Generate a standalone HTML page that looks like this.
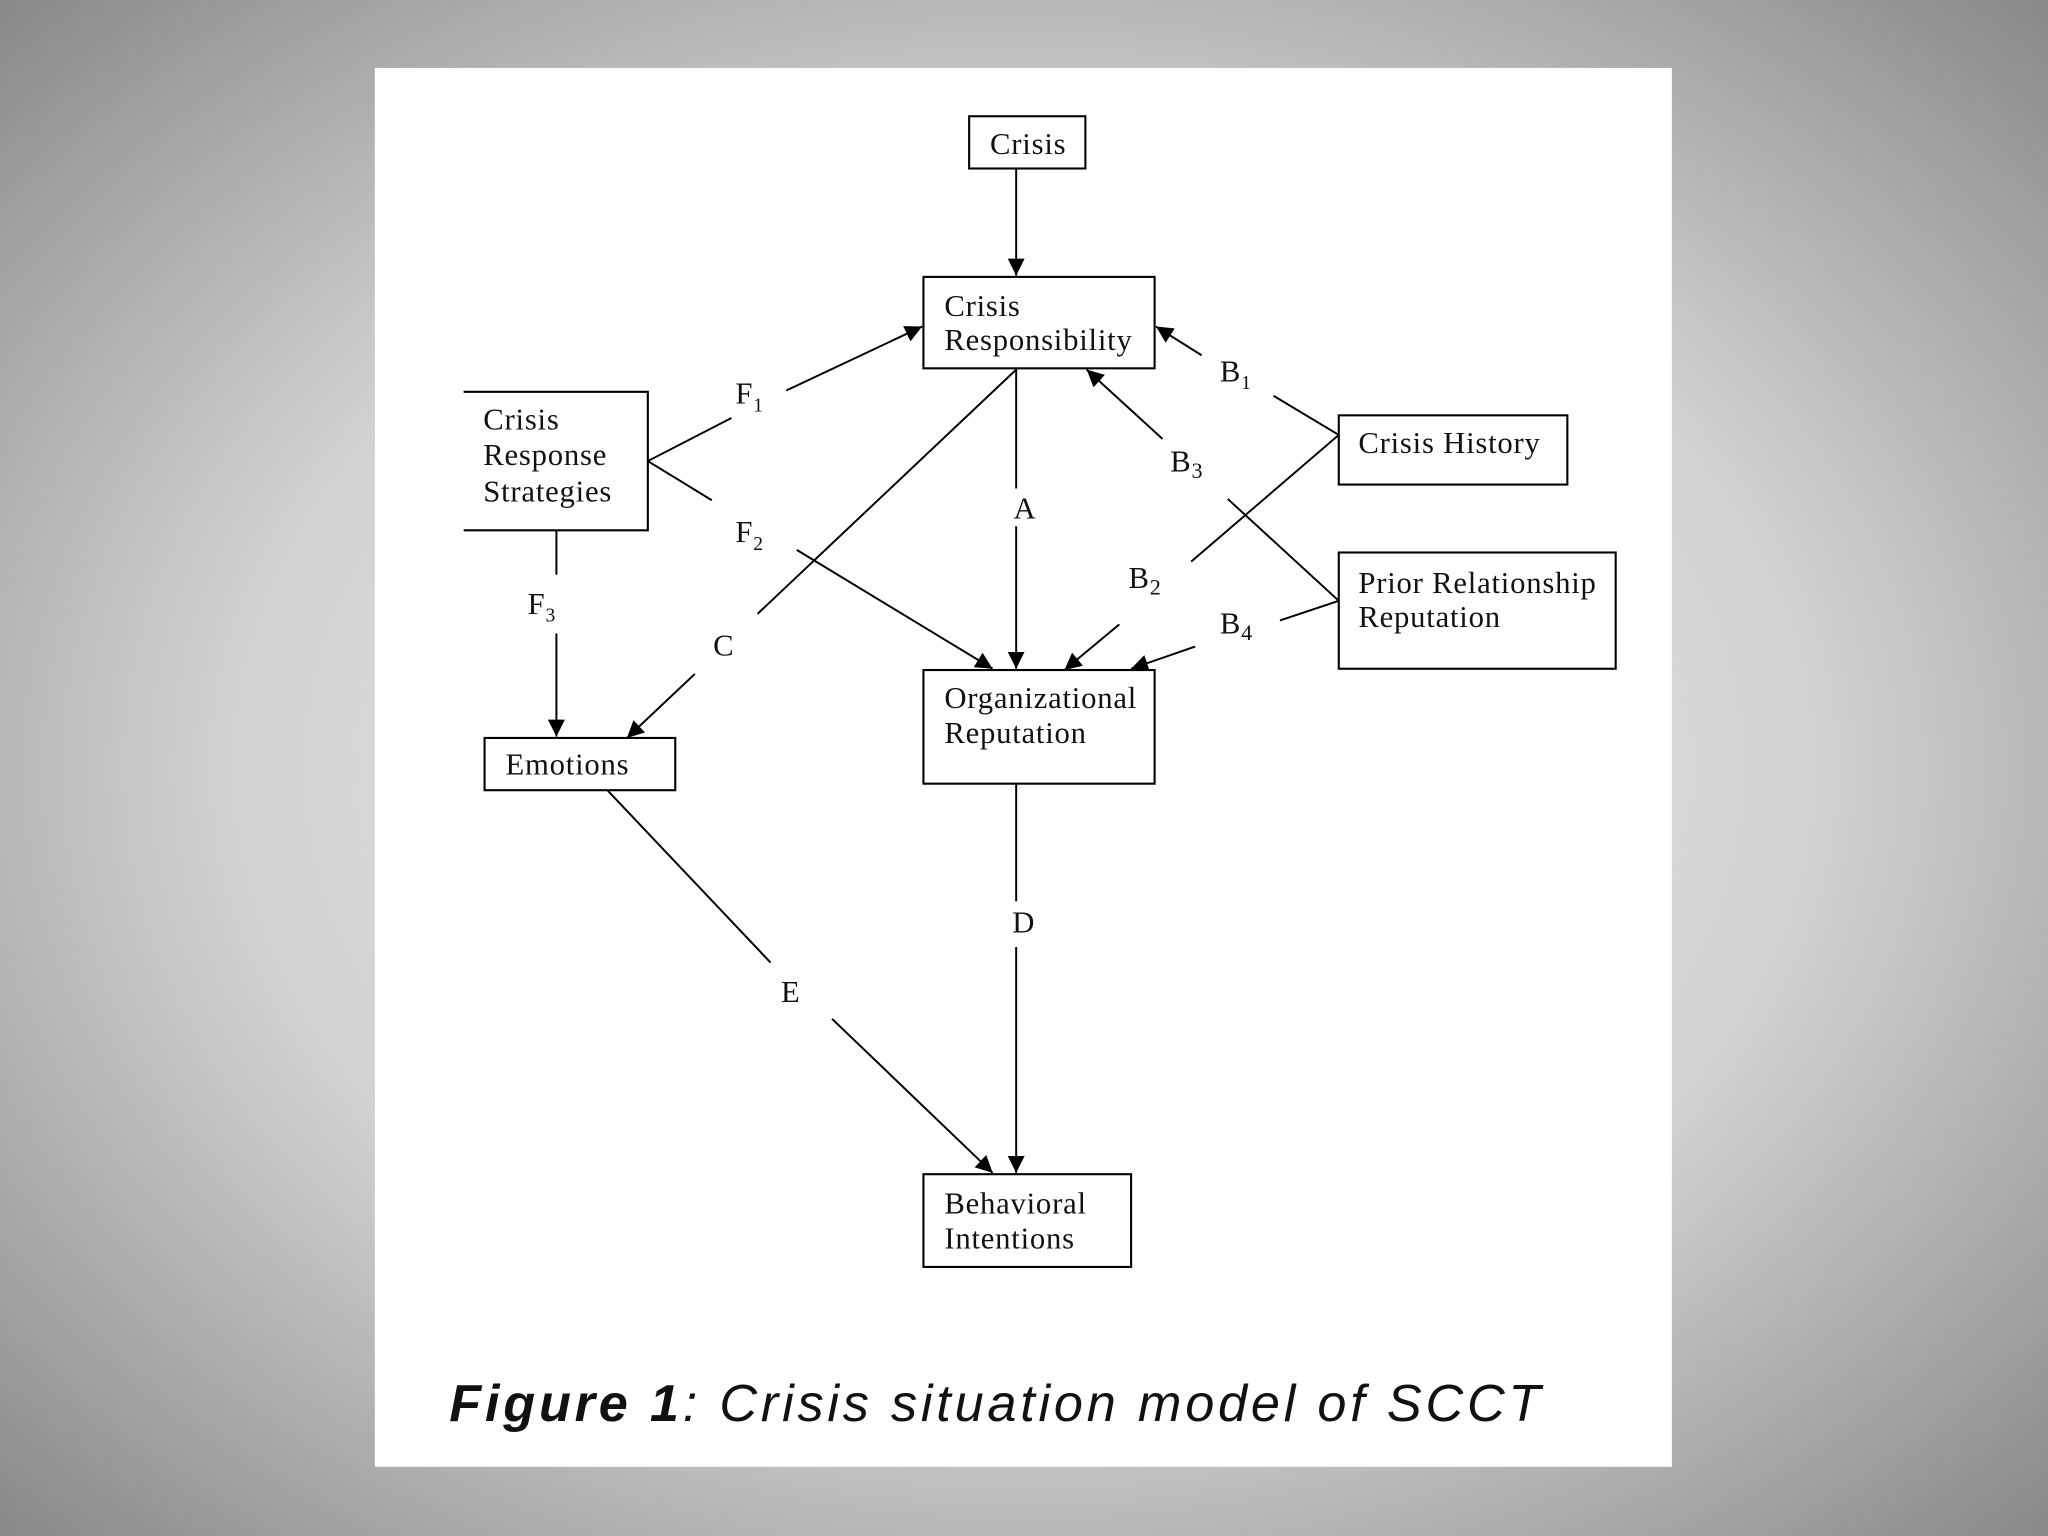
<!DOCTYPE html>
<html><head><meta charset="utf-8"><style>
html,body{margin:0;padding:0;width:2048px;height:1536px;overflow:hidden}
svg{display:block}
</style></head><body>
<svg width="2048" height="1536" viewBox="0 0 1568 1176" xmlns="http://www.w3.org/2000/svg">
<defs>
<radialGradient id="bg" cx="50%" cy="50%" r="70%">
<stop offset="0" stop-color="#f0f0f2"/>
<stop offset="0.55" stop-color="#d2d2d4"/>
<stop offset="1" stop-color="#8a8a8c"/>
</radialGradient>
<marker id="ar" viewBox="0 0 10 10" refX="10" refY="5" markerWidth="13" markerHeight="13" markerUnits="userSpaceOnUse" orient="auto">
<path d="M0,0 L10,5 L0,10 z" fill="#000"/>
</marker>
</defs>
<rect width="1568" height="1176" fill="url(#bg)"/>
<rect x="287" y="52" width="993" height="1071" fill="#fff"/>
<g fill="none" stroke="#000" stroke-width="1.6">
<rect x="742" y="89" width="89" height="40"/>
<rect x="707" y="212" width="177" height="70"/>
<path d="M355,300 H496 V406 H355"/>
<rect x="1025" y="318" width="175" height="53"/>
<rect x="1025" y="423" width="212" height="89"/>
<rect x="371" y="565" width="146" height="40"/>
<rect x="707" y="513" width="177" height="87"/>
<rect x="707" y="899" width="159" height="71"/>
</g>
<g fill="none" stroke="#000" stroke-width="1.5">
<line x1="778" y1="129" x2="778" y2="211" marker-end="url(#ar)"/>
<line x1="496" y1="353" x2="560" y2="320"/><line x1="602" y1="299" x2="706" y2="250" marker-end="url(#ar)"/>
<line x1="496" y1="353" x2="545" y2="383"/><line x1="610" y1="421" x2="760" y2="512" marker-end="url(#ar)"/>
<line x1="426" y1="406" x2="426" y2="440"/><line x1="426" y1="485" x2="426" y2="564" marker-end="url(#ar)"/>
<line x1="778" y1="283" x2="580" y2="470"/><line x1="532" y1="516" x2="480" y2="565" marker-end="url(#ar)"/>
<line x1="778" y1="282" x2="778" y2="374"/><line x1="778" y1="403" x2="778" y2="512" marker-end="url(#ar)"/>
<line x1="1025" y1="333" x2="975" y2="303"/><line x1="920" y1="272" x2="885" y2="250" marker-end="url(#ar)"/>
<line x1="1025" y1="460" x2="940" y2="382"/><line x1="890" y1="336" x2="832" y2="283" marker-end="url(#ar)"/>
<line x1="1025" y1="333" x2="912" y2="430"/><line x1="857" y1="478" x2="815" y2="513" marker-end="url(#ar)"/>
<line x1="1025" y1="460" x2="980" y2="475"/><line x1="915" y1="495" x2="866" y2="512" marker-end="url(#ar)"/>
<line x1="778" y1="600" x2="778" y2="690"/><line x1="778" y1="725" x2="778" y2="898" marker-end="url(#ar)"/>
<line x1="465" y1="605" x2="590" y2="737"/><line x1="637" y1="780" x2="760" y2="898" marker-end="url(#ar)"/>
</g>
<g font-family="Liberation Serif, serif" font-size="23.5" fill="#111" letter-spacing="0.6">
<text x="758" y="118">Crisis</text>
<text x="723" y="242">Crisis</text><text x="723" y="268">Responsibility</text>
<text x="370" y="329">Crisis</text><text x="370" y="356">Response</text><text x="370" y="384">Strategies</text>
<text x="1040" y="347">Crisis History</text>
<text x="1040" y="454">Prior Relationship</text><text x="1040" y="480">Reputation</text>
<text x="387" y="593">Emotions</text>
<text x="723" y="542">Organizational</text><text x="723" y="569">Reputation</text>
<text x="723" y="929">Behavioral</text><text x="723" y="956">Intentions</text>
<text x="563" y="309">F<tspan font-size="15" dy="6">1</tspan></text>
<text x="563" y="415">F<tspan font-size="15" dy="6">2</tspan></text>
<text x="404" y="470">F<tspan font-size="15" dy="6">3</tspan></text>
<text x="546" y="502">C</text>
<text x="776" y="397">A</text>
<text x="934" y="292">B<tspan font-size="15" dy="6">1</tspan></text>
<text x="896" y="361">B<tspan font-size="17" dy="5">3</tspan></text>
<text x="864" y="450">B<tspan font-size="17" dy="5">2</tspan></text>
<text x="934" y="485">B<tspan font-size="17" dy="5">4</tspan></text>
<text x="775" y="714">D</text>
<text x="598" y="767">E</text>
</g>
<text x="344" y="1088" font-family="Liberation Sans, sans-serif" font-size="40" font-style="italic" fill="#111" letter-spacing="2.9"><tspan font-weight="bold">Figure 1</tspan>: Crisis situation model of SCCT</text>
</svg>
</body></html>
